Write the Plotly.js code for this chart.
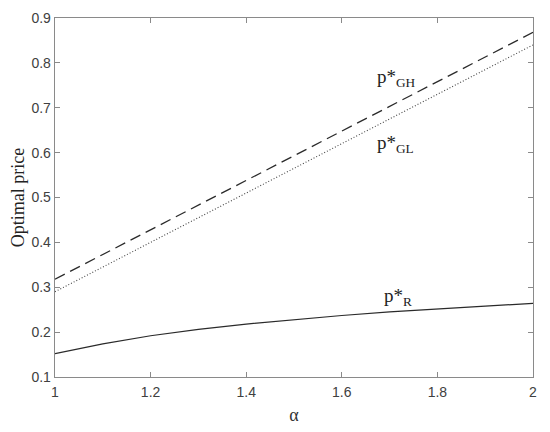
<!DOCTYPE html>
<html><head><meta charset="utf-8">
<script src="https://cdn.plot.ly/plotly-3.0.1.min.js"></script>
<style>html,body{margin:0;padding:0;background:#fff}#chart{width:550px;height:432px}</style>
</head><body><div id="chart"></div>
<script>
var alpha = [1.0, 1.1, 1.2, 1.3, 1.4, 1.5, 1.6, 1.7, 1.8, 1.9, 2.0];
var pGH = [0.318, 0.373, 0.428, 0.483, 0.538, 0.593, 0.648, 0.703, 0.758, 0.813, 0.868];
var pGL = [0.290, 0.345, 0.400, 0.455, 0.510, 0.565, 0.620, 0.675, 0.730, 0.785, 0.840];
var pR  = [0.152, 0.174, 0.192, 0.206, 0.218, 0.228, 0.237, 0.245, 0.252, 0.258, 0.264];
var xTicks = [1, 1.2, 1.4, 1.6, 1.8, 2];
var xTickText = ['1', '1.2', '1.4', '1.6', '1.8', '2'];
var yTicks = [0.1, 0.2, 0.3, 0.4, 0.5, 0.6, 0.7, 0.8, 0.9];
var yTickText = ['0.1', '0.2', '0.3', '0.4', '0.5', '0.6', '0.7', '0.8', '0.9'];
var labels = [
  {text: 'p*<sub>GH</sub>', x: 1.67, y: 0.766},
  {text: 'p*<sub>GL</sub>', x: 1.67, y: 0.62},
  {text: 'p*<sub>R</sub>', x: 1.685, y: 0.278}
];

var traces = [
  {x: alpha, y: pGH, mode: 'lines', line: {color: '#2a2a2a', width: 1.3, dash: '11px,6px'}, showlegend: false},
  {x: alpha, y: pGL, mode: 'lines', line: {color: '#444', width: 1.1, dash: '1px,2px'}, showlegend: false},
  {x: alpha, y: pR, mode: 'lines', line: {color: '#2a2a2a', width: 1.2}, showlegend: false}
];
var axisCommon = {
  showline: true, linecolor: '#8a8a8a', linewidth: 1.3, mirror: 'ticks',
  ticks: 'inside', ticklen: 5, tickcolor: '#8a8a8a', showgrid: false, zeroline: false,
  tickfont: {family: 'Liberation Sans, Arial, sans-serif', size: 14, color: '#404040'}
};
var layout = {
  width: 550, height: 432,
  margin: {l: 55, r: 17, t: 18, b: 55},
  paper_bgcolor: '#fff', plot_bgcolor: '#fff',
  xaxis: Object.assign({}, axisCommon, {
    range: [1, 2], tickvals: xTicks, ticktext: xTickText, ticklabelstandoff: 2,
    title: {text: 'α', font: {family: 'Liberation Serif, Times New Roman, serif', size: 18, color: '#333'}, standoff: 9}
  }),
  yaxis: Object.assign({}, axisCommon, {
    range: [0.1, 0.9], tickvals: yTicks, ticktext: yTickText,
    title: {text: 'Optimal price', font: {family: 'Liberation Serif, Times New Roman, serif', size: 18, color: '#222'}, standoff: 2}
  }),
  annotations: labels.map(function(a){
    return {text: a.text, x: a.x, y: a.y, xref: 'x', yref: 'y', xanchor: 'left', yanchor: 'middle',
      showarrow: false, font: {family: 'Liberation Serif, Times New Roman, serif', size: 19, color: '#222'}};
  })
};
Plotly.newPlot('chart', traces, layout, {displayModeBar: false, staticPlot: true});
</script></body></html>
